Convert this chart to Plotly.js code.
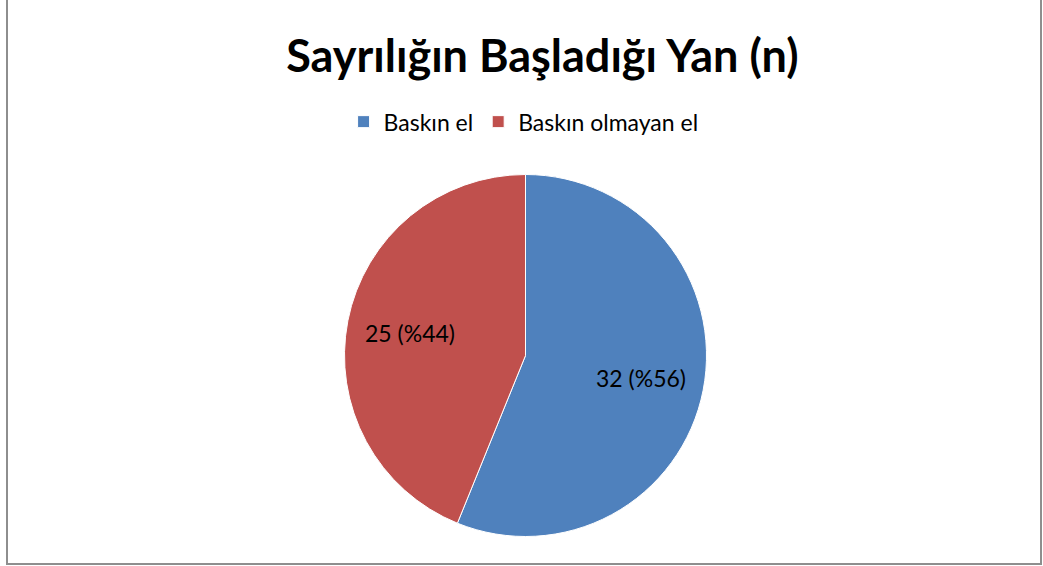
<!DOCTYPE html>
<html><head><meta charset="utf-8">
<script src="https://cdn.plot.ly/plotly-3.0.1.min.js"></script>
<style>
html,body{margin:0;padding:0;background:#fff;}
#wrap{position:relative;width:1043px;height:566px;overflow:hidden;}
#frame{position:absolute;left:6px;top:-4px;width:1036px;height:569px;border:2px solid #8e8e8e;box-sizing:border-box;pointer-events:none;}
#chart{position:absolute;left:0;top:0;width:1043px;height:566px;}
</style></head>
<body><div id="wrap"><div id="chart"></div><div id="frame"></div></div>
<script>
var categories = ['Baskın el', 'Baskın olmayan el'];
var values = [32, 25];
var colors = ['#4F81BD', '#C0504D'];
var chartTitle = 'Sayrılığın Başladığı Yan (n)';

var total = values.reduce(function(a,b){return a+b;},0);
var labelsText = values.map(function(v){return v + ' (%' + Math.round(v/total*100) + ')';});

var W = 1043, H = 566, cx = 525.5, cy = 355.5, R = 181;
var data = [{
  type: 'pie',
  labels: categories,
  values: values,
  textinfo: 'none',
  sort: false,
  direction: 'clockwise',
  rotation: 0,
  marker: {colors: colors, line: {color: '#ffffff', width: 1}},
  hoverinfo: 'none',
  domain: {x: [(cx-R)/W, (cx+R)/W], y: [(H-(cy+R))/H, (H-(cy-R))/H]}
}];

// data labels placed on each slice's bisector
var annotations = [];
var cum = 0;
values.forEach(function(v, i){
  var mid = (cum + v/2) / total * 2 * Math.PI;
  cum += v;
  var r = 0.65 * R;
  var px = cx + r * Math.sin(mid), py = cy - r * Math.cos(mid);
  annotations.push({
    xref: 'paper', yref: 'paper', x: px / W, y: 1 - py / H,
    xanchor: 'center', yanchor: 'middle', showarrow: false,
    text: labelsText[i],
    font: {family: 'Lato, sans-serif', size: 23, color: '#000000'}
  });
});

var layout = {
  width: W, height: H,
  margin: {l: 0, r: 0, t: 0, b: 0},
  paper_bgcolor: '#ffffff',
  showlegend: true,
  annotations: annotations,
  title: {text: '<b>' + chartTitle + '</b>', x: 0.52, xanchor: 'center', y: 0.9, yanchor: 'middle',
          font: {family: 'Lato, sans-serif', size: 45, color: '#000000'}},
  legend: {orientation: 'h', x: 0.502, xanchor: 'center', y: 0.785, yanchor: 'middle',
           font: {family: 'Lato, sans-serif', size: 23, color: '#000000'},
           itemwidth: 30, traceorder: 'normal'}
};

Plotly.newPlot('chart', data, layout, {displayModeBar: false, staticPlot: true});
</script></body></html>
